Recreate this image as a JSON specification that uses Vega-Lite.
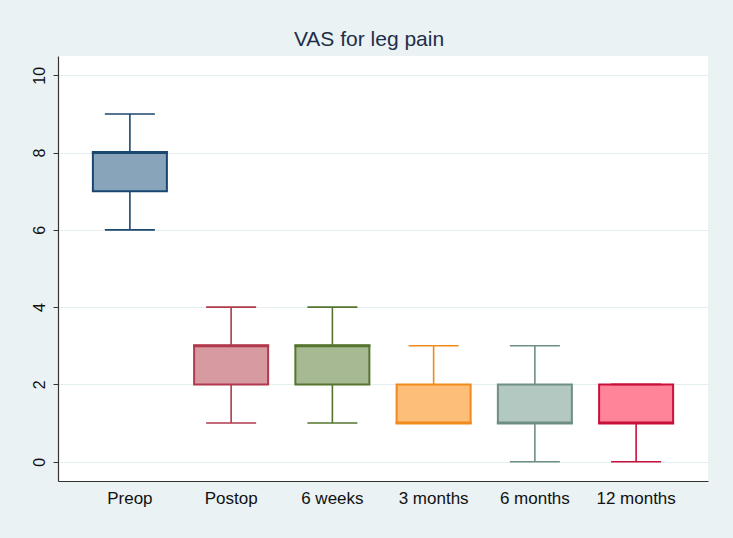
{
  "$schema": "https://vega.github.io/schema/vega-lite/v6.json",
  "width": 650,
  "height": 425,
  "autosize": {"type": "none"},
  "padding": {"left": 58, "top": 56, "right": 25, "bottom": 57},
  "background": "#EAF2F3",
  "config": {
    "view": {"stroke": null, "fill": "white"},
    "font": "Liberation Sans"
  },
  "title": {
    "text": "VAS for leg pain",
    "fontSize": 21,
    "font": "Liberation Sans",
    "fontWeight": "normal",
    "color": "#1E2E4A",
    "anchor": "middle",
    "dx": -14,
    "offset": 6
  },
  "data": {
    "values": [
      {"period": "Preop", "min": 6, "q1": 7, "median": 8, "q3": 8, "max": 9},
      {"period": "Postop", "min": 1, "q1": 2, "median": 3, "q3": 3, "max": 4},
      {"period": "6 weeks", "min": 1, "q1": 2, "median": 3, "q3": 3, "max": 4},
      {"period": "3 months", "min": 1, "q1": 1, "median": 1, "q3": 2, "max": 3},
      {"period": "6 months", "min": 0, "q1": 1, "median": 1, "q3": 2, "max": 3},
      {"period": "12 months", "min": 0, "q1": 1, "median": 1, "q3": 2, "max": 2}
    ]
  },
  "encoding": {
    "x": {
      "field": "period",
      "type": "nominal",
      "sort": ["Preop", "Postop", "6 weeks", "3 months", "6 months", "12 months"],
      "scale": {"paddingInner": 0, "paddingOuter": 0.21},
      "axis": {
        "title": null,
        "labelAngle": 0,
        "ticks": false,
        "labelPadding": 9,
        "labelFontSize": 17,
        "labelColor": "#111111",
        "domainColor": "#333333",
        "domainWidth": 1.2,
        "grid": false
      }
    },
    "color": {
      "field": "period",
      "type": "nominal",
      "legend": null,
      "scale": {
        "domain": ["Preop", "Postop", "6 weeks", "3 months", "6 months", "12 months"],
        "range": ["#1A476F", "#B03A4C", "#55752F", "#F08A1A", "#6E8E84", "#C8103C"]
      }
    }
  },
  "layer": [
    {
      "mark": {"type": "rule", "strokeWidth": 1.6},
      "encoding": {
        "y": {
          "field": "min",
          "type": "quantitative",
          "scale": {"domain": [-0.5, 10.5], "nice": false, "zero": false},
          "axis": {
            "title": null,
            "values": [0, 2, 4, 6, 8, 10],
            "labelAngle": -90,
            "labelAlign": "center",
            "labelBaseline": "bottom",
            "labelPadding": 6,
            "labelFontSize": 16,
            "labelColor": "#111111",
            "tickSize": 5,
            "tickColor": "#333333",
            "domainColor": "#333333",
            "domainWidth": 1.2,
            "gridColor": "#E4EEF0",
            "gridWidth": 1
          }
        },
        "y2": {"field": "max"}
      }
    },
    {
      "mark": {"type": "bar", "size": 74, "strokeWidth": 2},
      "encoding": {
        "y": {"field": "q1", "type": "quantitative"},
        "y2": {"field": "q3"},
        "fill": {
          "field": "period",
          "type": "nominal",
          "legend": null,
          "scale": {
            "domain": ["Preop", "Postop", "6 weeks", "3 months", "6 months", "12 months"],
            "range": ["#87A4BB", "#D89AA1", "#A6B993", "#FDBE7A", "#B4C8C2", "#FF8499"]
          }
        },
        "stroke": {
          "field": "period",
          "type": "nominal",
          "legend": null,
          "scale": {
            "domain": ["Preop", "Postop", "6 weeks", "3 months", "6 months", "12 months"],
            "range": ["#1A476F", "#B03A4C", "#55752F", "#F08A1A", "#6E8E84", "#C8103C"]
          }
        }
      }
    },
    {
      "mark": {"type": "tick", "size": 76, "thickness": 3, "orient": "horizontal", "opacity": 1},
      "encoding": {
        "y": {"field": "median", "type": "quantitative"}
      }
    },
    {
      "mark": {"type": "tick", "size": 50, "thickness": 1.6, "orient": "horizontal", "opacity": 1},
      "encoding": {
        "y": {"field": "min", "type": "quantitative"}
      }
    },
    {
      "mark": {"type": "tick", "size": 50, "thickness": 1.6, "orient": "horizontal", "opacity": 1},
      "encoding": {
        "y": {"field": "max", "type": "quantitative"}
      }
    }
  ]
}
